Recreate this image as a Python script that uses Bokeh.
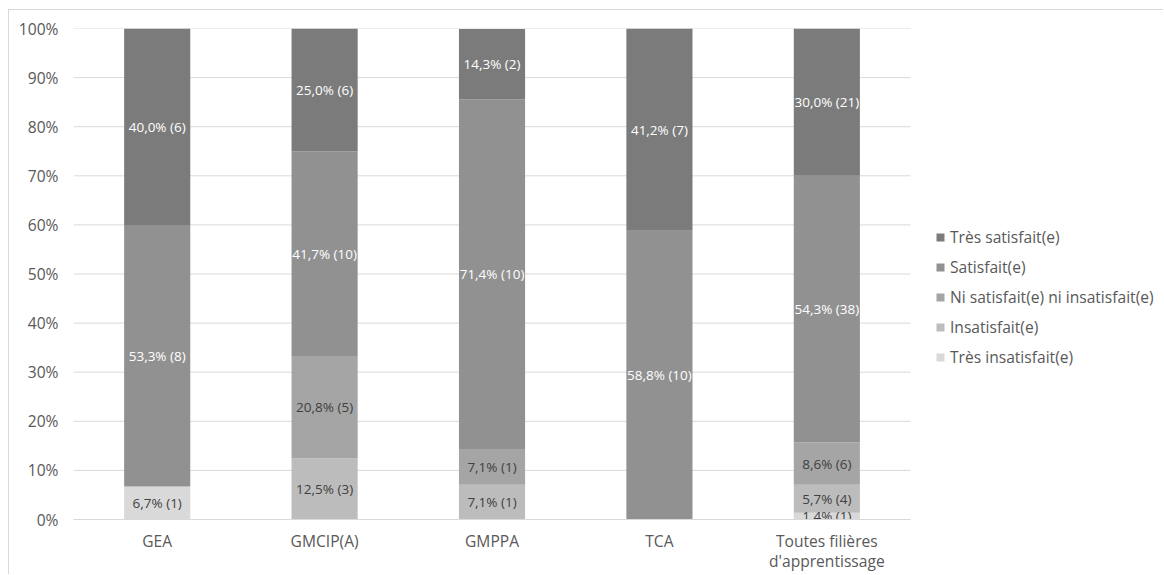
from bokeh.plotting import figure
from bokeh.models import (FixedTicker, Legend, LegendItem, ColumnDataSource, Range1d)
from bokeh.core.properties import value
from bokeh.embed import file_html
from bokeh.resources import INLINE

categories = ["GEA", "GMCIP(A)", "GMPPA", "TCA", "Toutes filières\nd'apprentissage"]
series = ["Très insatisfait(e)", "Insatisfait(e)", "Ni satisfait(e) ni insatisfait(e)",
          "Satisfait(e)", "Très satisfait(e)"]

# percentages (%)
tres_insatisfait = [6.7, 0.0, 0.0, 0.0, 1.4]
insatisfait = [0.0, 12.5, 7.1, 0.0, 5.7]
ni_ni = [0.0, 20.8, 7.1, 0.0, 8.6]
satisfait = [53.3, 41.7, 71.4, 58.8, 54.3]
tres_satisfait = [40.0, 25.0, 14.3, 41.2, 30.0]

# counts shown in parentheses
n_tres_insatisfait = [1, 0, 0, 0, 1]
n_insatisfait = [0, 3, 1, 0, 4]
n_ni_ni = [0, 5, 1, 0, 6]
n_satisfait = [8, 10, 10, 10, 38]
n_tres_satisfait = [6, 6, 2, 7, 21]

y_ticks = [0, 10, 20, 30, 40, 50, 60, 70, 80, 90, 100]

colors = ["#d9d9d9", "#bcbcbc", "#a5a5a5", "#919191", "#7b7b7b"]
text_colors = ["#404040", "#404040", "#404040", "#ffffff", "#ffffff"]

pct = [tres_insatisfait, insatisfait, ni_ni, satisfait, tres_satisfait]
cnt = [n_tres_insatisfait, n_insatisfait, n_ni_ni, n_satisfait, n_tres_satisfait]
keys = ["s0", "s1", "s2", "s3", "s4"]

ncat = len(categories)
xpos = [i + 0.5 for i in range(ncat)]

data = {"x": xpos}
for k, v in zip(keys, pct):
    data[k] = [x / 100.0 for x in v]
source = ColumnDataSource(data)

FONT = "Open Sans"
AX_SIZE = "15.6px"
# the frame extends to the right edge so that the legend can sit inside it
p = figure(x_range=Range1d(0, ncat * 1.3034), y_range=Range1d(0, 1),
           width=1155, height=565, output_backend="svg", toolbar_location=None,
           min_border_left=64, min_border_right=0, min_border_top=18, min_border_bottom=56)
p.styles = {"border-left": "1px solid #d9d9d9", "border-top": "1px solid #d9d9d9",
            "margin-left": "8px", "margin-top": "9px"}
p.outline_line_color = None
p.background_fill_color = "white"
p.xgrid.grid_line_color = None
p.ygrid.grid_line_color = None

# horizontal gridlines limited to the category area
gy = [t / 100 for t in y_ticks]
p.segment(x0=[0] * len(gy), x1=[ncat] * len(gy), y0=gy, y1=gy,
          line_color="#d9d9d9", line_width=1)

renderers = p.vbar_stack(keys, x="x", width=0.395, color=colors, source=source, line_color=None)

# data labels
lx, ly, lt, lc = [], [], [], []
for i in range(ncat):
    base = 0.0
    for s in range(5):
        v = pct[s][i] / 100.0
        if v > 0:
            lx.append(xpos[i])
            ly.append(base + v / 2)
            lt.append(f"{pct[s][i]:.1f}".replace(".", ",") + f"% ({cnt[s][i]})")
            lc.append(text_colors[s])
        base += v
lsrc = ColumnDataSource(dict(x=lx, y=ly, t=lt, c=lc))
p.text(x="x", y="y", text="t", source=lsrc, text_color="c", text_align="center",
       text_baseline="middle", text_font=value(FONT), text_font_size="13.5px")

# axes
p.yaxis.ticker = FixedTicker(ticks=gy)
p.yaxis.major_label_overrides = {t / 100: f"{t}%" for t in y_ticks}
p.yaxis.axis_line_color = None
p.yaxis.major_tick_line_color = None
p.yaxis.minor_tick_line_color = None
p.yaxis.major_label_text_font = FONT
p.yaxis.major_label_text_font_size = AX_SIZE
p.yaxis.major_label_text_color = "#595959"
p.yaxis.major_label_standoff = 9

p.xaxis.ticker = FixedTicker(ticks=xpos)
p.xaxis.major_label_overrides = {x: c for x, c in zip(xpos, categories)}
p.xaxis.bounds = (0, ncat)
p.xaxis.axis_line_color = "#d9d9d9"
p.xaxis.major_tick_line_color = None
p.xaxis.minor_tick_line_color = None
p.xaxis.major_label_text_font = FONT
p.xaxis.major_label_text_font_size = AX_SIZE
p.xaxis.major_label_text_color = "#595959"
p.xaxis.major_label_text_line_height = 0.95
p.xaxis.major_label_standoff = 4

items = [LegendItem(label=series[s], renderers=[renderers[s]]) for s in [4, 3, 2, 1, 0]]
legend = Legend(items=items, location=(862, 151), padding=0, margin=0, spacing=8,
                label_height=20, glyph_width=10, glyph_height=10, label_standoff=5,
                label_text_font=FONT, label_text_font_size=AX_SIZE, label_text_color="#595959",
                border_line_color=None, background_fill_alpha=0)
p.add_layout(legend, "center")

open("out.html", "w").write(file_html(p, INLINE))
